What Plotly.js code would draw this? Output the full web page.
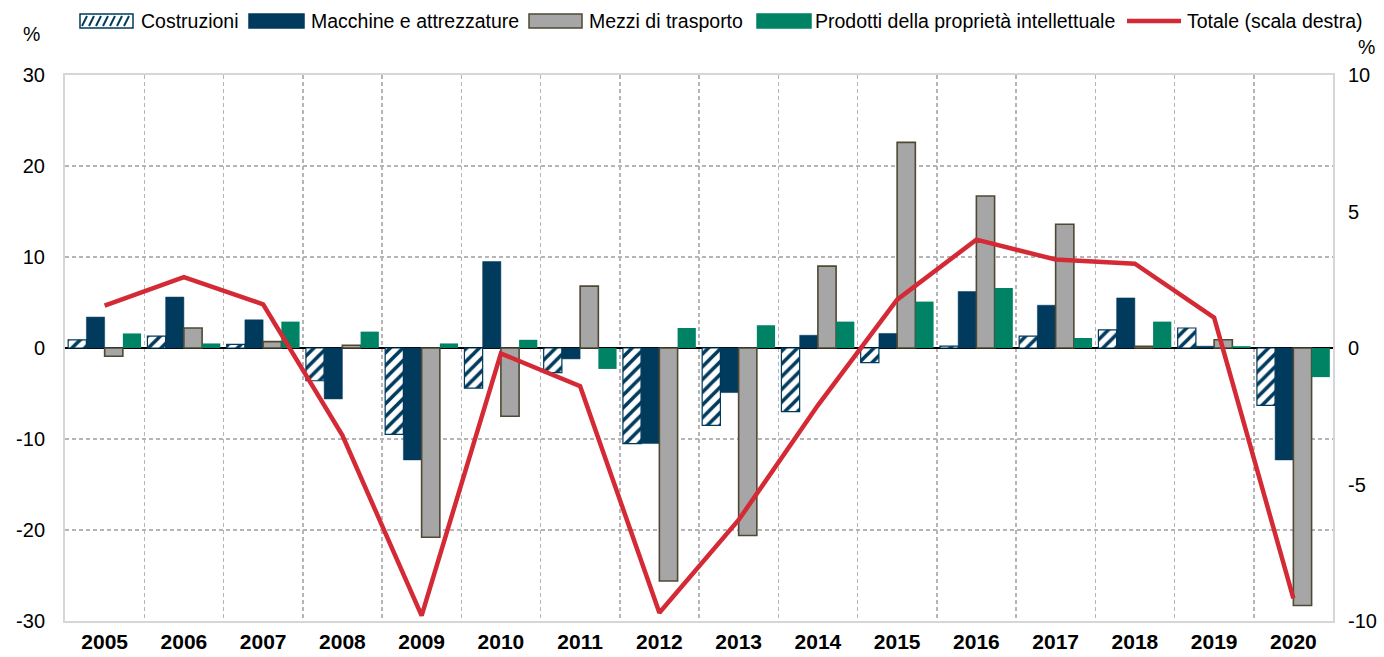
<!DOCTYPE html>
<html><head><meta charset="utf-8">
<script src="https://cdn.plot.ly/plotly-3.0.1.min.js"></script>
<style>body{margin:0;background:#fff}</style>
</head><body><div id="chart" style="width:1384px;height:657px"></div>
<script>
const years = ['2005','2006','2007','2008','2009','2010','2011','2012','2013','2014','2015','2016','2017','2018','2019','2020'];
const costruzioni = [0.9, 1.3, 0.4, -3.6, -9.5, -4.4, -2.7, -10.5, -8.5, -7.0, -1.6, 0.2, 1.3, 2.0, 2.2, -6.3];
const macchine    = [3.4, 5.6, 3.1, -5.6, -12.3, 9.5, -1.2, -10.5, -4.9, 1.4, 1.6, 6.2, 4.7, 5.5, 0.2, -12.3];
const mezzi       = [-0.9, 2.2, 0.7, 0.3, -20.8, -7.5, 6.8, -25.6, -20.6, 9.0, 22.6, 16.7, 13.6, 0.2, 0.9, -28.3];
const prodotti    = [1.6, 0.5, 2.9, 1.8, 0.5, 0.9, -2.3, 2.2, 2.5, 2.9, 5.1, 6.6, 1.1, 2.9, 0.2, -3.2];
const totale      = [1.55, 2.6, 1.6, -3.2, -9.8, -0.2, -1.4, -9.7, -6.3, -2.1, 1.77, 3.97, 3.24, 3.09, 1.11, -9.17];
const seriesNames = ['Costruzioni','Macchine e attrezzature','Mezzi di trasporto','Prodotti della proprietà intellettuale','Totale (scala destra)'];
const leftTickVals = [-30, -20, -10, 0, 10, 20, 30];
const leftTickText = ['-30', '-20', '-10', '0', '10', '20', '30'];
const rightTickVals = [-10, -5, 0, 5, 10];
const rightTickText = ['-10', '-5', '0', '5', '10'];

const NAVY = '#003a5c', GREY = '#a6a6a6', GREYLINE = '#4f4933', GREEN = '#008264', RED = '#d42a35';
const SANS = '"Liberation Sans", Arial, sans-serif';

const traces = [
  {type:'bar', x:years, y:costruzioni, name:seriesNames[0], yaxis:'y',
   marker:{color:'white', line:{color:NAVY, width:1.2},
     pattern:{shape:'/', fgcolor:NAVY, bgcolor:'white', size:9, solidity:0.4}}},
  {type:'bar', x:years, y:macchine, name:seriesNames[1], yaxis:'y',
   marker:{color:NAVY, line:{color:NAVY, width:0.5}}},
  {type:'bar', x:years, y:mezzi, name:seriesNames[2], yaxis:'y',
   marker:{color:GREY, line:{color:GREYLINE, width:1.6}}},
  {type:'bar', x:years, y:prodotti, name:seriesNames[3], yaxis:'y',
   marker:{color:GREEN, line:{width:0}}},
  {type:'scatter', mode:'lines', x:years, y:totale, name:seriesNames[4], yaxis:'y2',
   line:{color:RED, width:4.5}}
];

const L = 65, R = 1333, T = 75, B = 621;
const px = v => (v - L) / (R - L);
const py = v => (B - v) / (B - T);

const shapes = [];
const annotations = [];
const legendItems = [
  {kind:'hatch', x0:80, x1:133, tx:139},
  {kind:'solid', color:NAVY, line:NAVY, x0:249, x1:304, tx:309},
  {kind:'solid', color:GREY, line:GREYLINE, x0:529, x1:582, tx:587},
  {kind:'solid', color:GREEN, line:GREEN, x0:757, x1:811, tx:813},
  {kind:'line', x0:1127, x1:1181, tx:1185}
];
const ly0 = 14, ly1 = 28, lyc = 21;
legendItems.forEach((it, i) => {
  if (it.kind === 'line') {
    shapes.push({type:'line', xref:'paper', yref:'paper', x0:px(it.x0), x1:px(it.x1), y0:py(lyc), y1:py(lyc),
      line:{color:RED, width:4.5}});
  } else if (it.kind === 'hatch') {
    shapes.push({type:'rect', xref:'paper', yref:'paper', x0:px(it.x0), x1:px(it.x1), y0:py(ly1), y1:py(ly0),
      fillcolor:'white', line:{color:NAVY, width:1.5}});
    for (let hx = it.x0 + 2; hx < it.x1 - 4; hx += 7) {
      shapes.push({type:'line', xref:'paper', yref:'paper', x0:px(hx), x1:px(hx + 5), y0:py(ly1 - 2), y1:py(ly0 + 2),
        line:{color:NAVY, width:2}});
    }
  } else {
    shapes.push({type:'rect', xref:'paper', yref:'paper', x0:px(it.x0), x1:px(it.x1), y0:py(ly1), y1:py(ly0),
      fillcolor:it.color, line:{color:it.line, width:1.5}});
  }
  annotations.push({xref:'paper', yref:'paper', x:px(it.tx), y:py(lyc), xanchor:'left', yanchor:'middle',
    text:seriesNames[i], showarrow:false, font:{family:SANS, size:19.5, color:'#000'}});
});
annotations.push({xref:'paper', yref:'paper', x:px(31), y:py(34), xanchor:'center', yanchor:'middle',
  text:'%', showarrow:false, font:{family:SANS, size:19.5, color:'#000'}});
annotations.push({xref:'paper', yref:'paper', x:px(1366), y:py(47), xanchor:'center', yanchor:'middle',
  text:'%', showarrow:false, font:{family:SANS, size:19.5, color:'#000'}});

const layout = {
  width:1384, height:657,
  margin:{l:L, r:1384 - R, t:T, b:657 - B, pad:0},
  paper_bgcolor:'white', plot_bgcolor:'white',
  showlegend:false,
  barmode:'group', bargap:0.08, bargroupgap:0,
  xaxis:{type:'category', tickson:'boundaries', showgrid:true, gridcolor:'#b5b5b5', griddash:'4px,3px', gridwidth:1.5,
    ticks:'', showline:true, linecolor:'#d6d6d6', linewidth:2, mirror:true, zeroline:false, ticklabelstandoff:1,
    tickfont:{family:SANS, size:21, color:'#000', weight:'bold'}},
  yaxis:{range:[-30,30], tickmode:'array', tickvals:leftTickVals, ticktext:leftTickText,
    showgrid:true, gridcolor:'#b5b5b5', griddash:'4px,3px', gridwidth:1.5,
    zeroline:true, zerolinecolor:'#000', zerolinewidth:2.5,
    showline:true, linecolor:'#d6d6d6', linewidth:2, mirror:true, ticks:'', ticklabelstandoff:14,
    tickfont:{family:SANS, size:20, color:'#000'}},
  yaxis2:{range:[-10,10], tickmode:'array', tickvals:rightTickVals, ticktext:rightTickText,
    overlaying:'y', side:'right', showgrid:false, zeroline:false,
    showline:false, ticks:'', ticklabelstandoff:14,
    tickfont:{family:SANS, size:20, color:'#000'}},
  shapes:shapes, annotations:annotations
};
Plotly.newPlot('chart', traces, layout, {displayModeBar:false, staticPlot:true});
</script>
</body></html>
